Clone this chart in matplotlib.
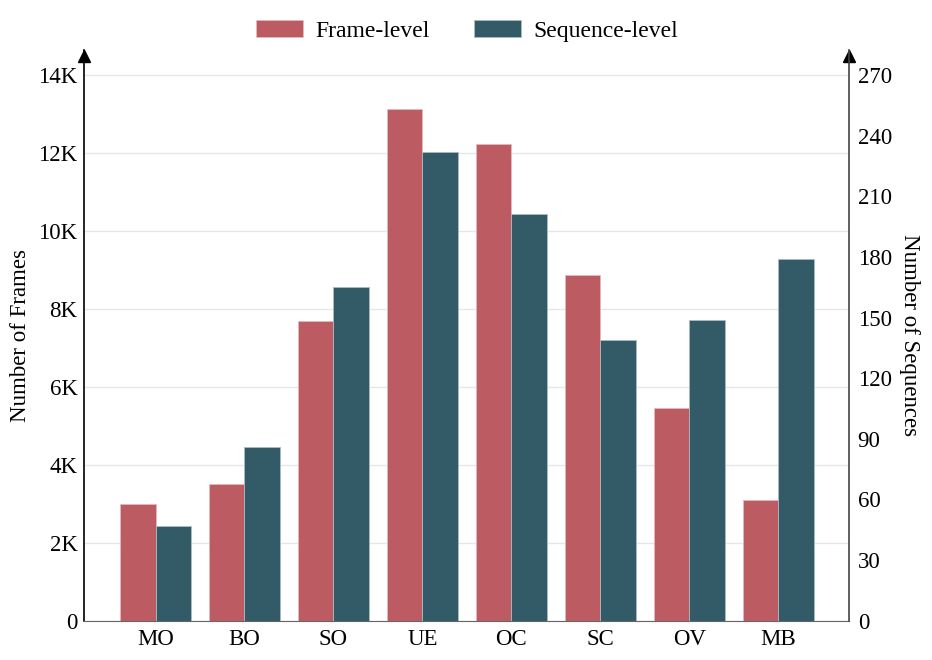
import numpy as np
import matplotlib
matplotlib.use('Agg')
import matplotlib.pyplot as plt
from matplotlib.ticker import FuncFormatter

plt.rcParams['font.family'] = ['Liberation Serif', 'DejaVu Serif']

categories = ['MO', 'BO', 'SO', 'UE', 'OC', 'SC', 'OV', 'MB']
frame_level = [3000, 3500, 7680, 13120, 12220, 8870, 5460, 3100]
sequence_level = [47, 86, 165, 232, 201, 139, 149, 179]

left_ticks = [0, 2000, 4000, 6000, 8000, 10000, 12000, 14000]
right_ticks = [0, 30, 60, 90, 120, 150, 180, 210, 240, 270]

red = '#BC5B62'
teal = '#325A67'
fs = 16.5

fig = plt.figure(figsize=(9.32, 6.6), dpi=100)
ax = fig.add_axes([0.0905, 0.0595, 0.8208, 0.8647])
ax2 = ax.twinx()

x = np.arange(len(categories))
w = 0.4

# extra headroom above the last tick so the arrow sits above 14K / 270
top_left = 14640
top_right = top_left * 270 / 14000

b1 = ax.bar(x - w / 2, frame_level, w, color=red, edgecolor='#E3B9BC', linewidth=0.6, label='Frame-level', zorder=3)
b2 = ax2.bar(x + w / 2, sequence_level, w, color=teal, edgecolor='#A9BCC2', linewidth=0.6, label='Sequence-level', zorder=3)

ax.set_xlim(-0.8, 7.8)
ax.set_ylim(0, top_left)
ax2.set_ylim(0, top_right)

ax.set_yticks(left_ticks)
ax.yaxis.set_major_formatter(FuncFormatter(lambda v, p: '0' if v == 0 else '%dK' % (v / 1000)))
ax2.set_yticks(right_ticks)

ax.set_xticks(x)
ax.set_xticklabels(categories)

ax.grid(axis='y', color='#E6E6E6', linewidth=1, zorder=0)
ax.set_axisbelow(True)

for a in (ax, ax2):
    a.spines['top'].set_visible(False)
    a.tick_params(length=0, labelsize=fs)
ax.tick_params(axis='y', pad=5)
ax2.tick_params(axis='y', pad=6)
ax.tick_params(axis='x', pad=6)

ax.spines['left'].set_color('black')
ax.spines['left'].set_linewidth(1.2)
ax.spines['right'].set_visible(False)
ax.spines['bottom'].set_color('#666666')
ax2.spines['left'].set_visible(False)
ax2.spines['bottom'].set_visible(False)
ax2.spines['right'].set_color('#444444')
ax2.spines['right'].set_linewidth(1.2)

# arrow heads on the y axes
ytip = 1 - 6 / 570.7
ax.plot([0], [ytip], marker='^', markersize=9, color='black', transform=ax.transAxes, clip_on=False, zorder=5)
ax.plot([1], [ytip], marker='^', markersize=9, color='black', transform=ax.transAxes, clip_on=False, zorder=5)

ax.set_ylabel('Number of Frames', fontsize=fs, labelpad=5)
ax2.set_ylabel('Number of Sequences', fontsize=fs, rotation=270, labelpad=20)

fig.legend(handles=[b1, b2], labels=['Frame-level', 'Sequence-level'], loc='center',
           bbox_to_anchor=(0.501, 0.953), ncol=2, frameon=False, fontsize=17,
           handlelength=2.0, handleheight=0.72, handletextpad=0.5, columnspacing=1.9)

fig.savefig('out.png', dpi=100)
